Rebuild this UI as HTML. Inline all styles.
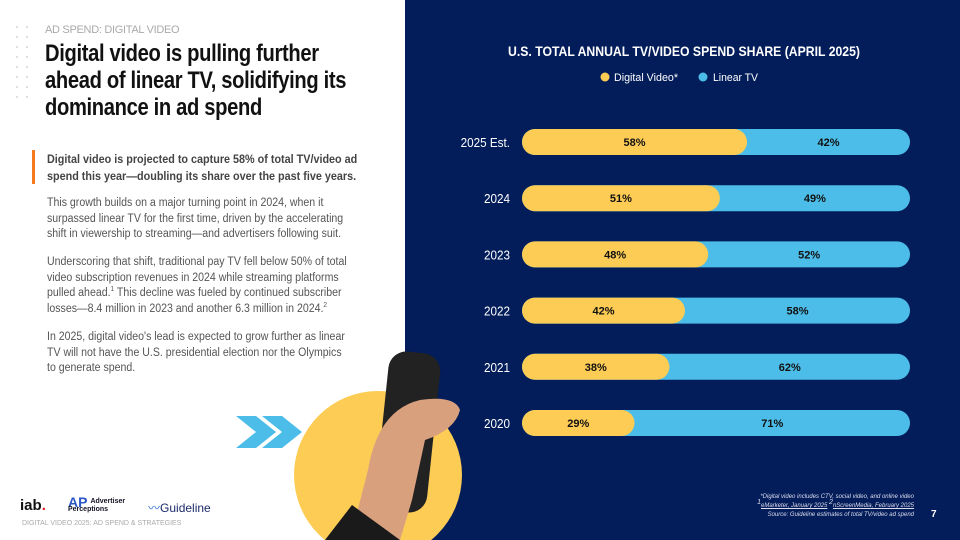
<!DOCTYPE html>
<html><head><meta charset="utf-8"><style>
body{margin:0;width:960px;height:540px;overflow:hidden;font-family:"Liberation Sans",sans-serif;background:#fff;position:relative}
.abs{position:absolute}
sup{line-height:0;font-size:7px}
#navy{left:405px;top:0;width:555px;height:540px;background:#031d5a}
#kicker{left:45px;top:24px;font-size:11px;color:#a9a9a9;letter-spacing:-0.3px}
#title{left:45px;top:40px;font-size:24px;font-weight:bold;color:#111;line-height:27px;letter-spacing:-0.4px;width:380px;transform:scaleX(0.84);transform-origin:0 0}
#bar{left:32px;top:150px;width:3px;height:34px;background:#f47b20}
#lead{left:47px;top:151px;font-size:12px;font-weight:bold;color:#444;line-height:17px;width:380px;transform:scaleX(0.9);transform-origin:0 0}
.p{left:47px;font-size:11.5px;color:#555;line-height:15.5px;width:345px;transform:scaleX(0.92);transform-origin:0 0}
#foot{left:22px;top:520px;font-size:7px;color:#aaa}
#notes{right:46px;top:493px;font-size:6px;color:#dde;text-align:right;line-height:9px;font-style:italic}
#pg{left:931px;top:509px;color:#fff;font-size:10px;font-weight:bold}
.dots{left:12px;top:22px;width:22px;height:78px;background-image:radial-gradient(#ddd 1px,transparent 1.3px);background-size:10px 10px}
</style></head><body>
<div id="navy" class="abs"></div>
<div class="abs dots"></div>
<div id="kicker" class="abs">AD SPEND: DIGITAL VIDEO</div>
<div id="title" class="abs">Digital video is pulling further<br>ahead of linear TV, solidifying its<br>dominance in ad spend</div>
<div id="bar" class="abs"></div>
<div id="lead" class="abs">Digital video is projected to capture 58% of total TV/video ad<br>spend this year—doubling its share over the past five years.</div>
<div class="abs p" style="top:196px">This growth builds on a major turning point in 2024, when it<br>surpassed linear TV for the first time, driven by the accelerating<br>shift in viewership to streaming—and advertisers following suit.</div>
<div class="abs p" style="top:255px">Underscoring that shift, traditional pay TV fell below 50% of total<br>video subscription revenues in 2024 while streaming platforms<br>pulled ahead.<sup>1</sup> This decline was fueled by continued subscriber<br>losses—8.4 million in 2023 and another 6.3 million in 2024.<sup>2</sup></div>
<div class="abs p" style="top:330px">In 2025, digital video's lead is expected to grow further as linear<br>TV will not have the U.S. presidential election nor the Olympics<br>to generate spend.</div>
<svg class="abs" style="left:0;top:0" width="960" height="540">
<circle cx="378" cy="475" r="84" fill="#fccc55"/>
<polygon points="236,416 256,416 276,432 256,448 236,448 256,432" fill="#4cbde8"/>
<polygon points="262,416 282,416 302,432 282,448 262,448 282,432" fill="#4cbde8"/>
<rect x="382" y="352" width="52" height="160" rx="18" fill="#222" transform="rotate(6 408 430)"/>
<path d="M350,540 L368,470 Q378,410 420,400 Q455,395 460,410 Q455,430 425,440 L412,500 L400,540 Z" fill="#d9a07e"/>
<path d="M325,540 L352,505 L400,540 Z" fill="#1a1a1a"/>
</svg>
<div id="foot" class="abs">DIGITAL VIDEO 2025: AD SPEND &amp; STRATEGIES</div>
<div class="abs" style="left:20px;top:497px;font-weight:bold;font-size:15px;color:#111">iab<span style="color:#e01b22">.</span></div>
<div class="abs" style="left:68px;top:498px;font-size:7px;font-weight:bold;color:#112;line-height:8px"><span style="color:#2b56c6;font-size:14px;float:left;margin-right:3px">AP</span>Advertiser<br>Perceptions</div>
<div class="abs" style="left:148px;top:499px;font-size:12px;color:#1b2a6b"><span style="color:#2b6bd6">〰</span>Guideline</div>
<div id="notes" class="abs">*Digital video includes CTV, social video, and online video<br><sup>1</sup><u>eMarketer, January 2025</u> <sup>2</sup><u>nScreenMedia, February 2025</u><br>Source: Guideline estimates of total TV/video ad spend</div>
<div id="pg" class="abs">7</div>
<svg id="chart" class="abs" style="left:0;top:0" width="960" height="540">
<text x="508" y="56" fill="#fff" font-size="14" font-weight="bold" textLength="352" lengthAdjust="spacingAndGlyphs">U.S. TOTAL ANNUAL TV/VIDEO SPEND SHARE (APRIL 2025)</text>
<g>
<circle cx="605" cy="77" r="4.5" fill="#fccc55"/><text x="614" y="81" fill="#fff" font-size="11" textLength="64" lengthAdjust="spacingAndGlyphs">Digital Video*</text>
<circle cx="703" cy="77" r="4.5" fill="#4cbde8"/><text x="713" y="81" fill="#fff" font-size="11" textLength="45" lengthAdjust="spacingAndGlyphs">Linear TV</text>
</g>
<g id="bars"></g>
</svg>
<script>
const categories=["2025 Est.","2024","2023","2022","2021","2020"];
const digital=[58,51,48,42,38,29];
const linear=[42,49,52,58,62,71];
const x0=522,x1=910,yTop=142,step=56.2,h=26;
const xs=v=>x0+(x1-x0)*v/100;
const ys=i=>yTop+i*step;
const g=document.getElementById('bars');
const ns="http://www.w3.org/2000/svg";
function mk(t,a){const e=document.createElementNS(ns,t);for(const k in a)e.setAttribute(k,a[k]);return e;}
categories.forEach((c,i)=>{
  const cy=ys(i), tot=digital[i]+linear[i], xm=xs(digital[i]/tot*100);
  const lab=mk('text',{x:510,y:cy+5,fill:'#fff','font-size':13,'text-anchor':'end',transform:`translate(510 0) scale(0.9 1) translate(-510 0)`});lab.textContent=c;
  
  
  g.appendChild(lab);
  const bl=mk('rect',{x:x0,y:cy-h/2,width:x1-x0,height:h,rx:h/2,fill:'#4cbde8'});
  
  
  g.appendChild(bl);
  const bd=mk('path',{d:`M${x0+h/2},${cy-h/2} H${xm-h/2} A${h/2},${h/2} 0 0 1 ${xm-h/2},${cy+h/2} H${x0+h/2} A${h/2},${h/2} 0 0 1 ${x0+h/2},${cy-h/2} Z`,fill:'#fccc55'});
  
  
  g.appendChild(bd);
  const t1=mk('text',{x:(x0+xm)/2,y:cy+4,'font-size':11,'font-weight':'bold','text-anchor':'middle',fill:'#111'});t1.textContent=digital[i]+'%';
  
  
  g.appendChild(t1);
  const t2=mk('text',{x:(xm+x1)/2,y:cy+4,'font-size':11,'font-weight':'bold','text-anchor':'middle',fill:'#111'});t2.textContent=linear[i]+'%';
  
  
  g.appendChild(t2);
});
</script>
</body></html>
